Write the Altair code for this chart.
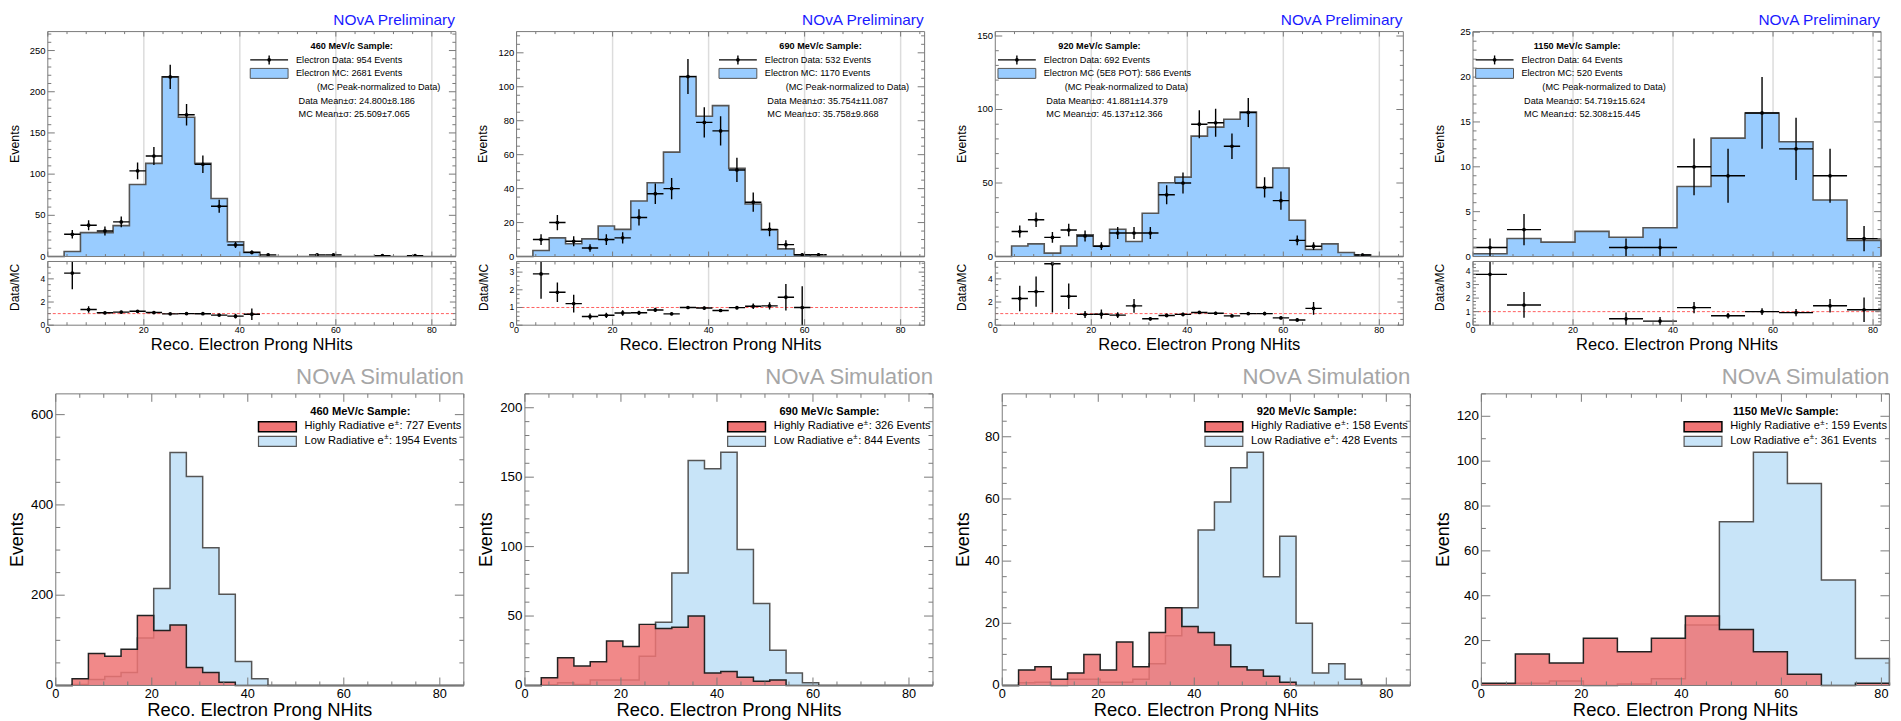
import math
import altair as alt
import pandas as pd

FONT = "Liberation Sans"
FRAME = "#7a7a7a"
MC_FILL = "#99ccff"
MC_LINE = "#555555"
LOW_FILL = "#c8e4f8"
HIGH_FILL = "#ef7474"
GRID = "#dcdcdc"

# ---------------- binning ----------------
BW_FINE = 3.4   # 25 bins over 0-85
BW_WIDE = 6.8   # 12 bins over 0-81.6
X_LABELS = [0, 20, 40, 60, 80]
X_GRID = [20, 40, 60, 80]
X_TITLE = "Reco. Electron Prong NHits"

# ---------------- top row: beam data vs MC ----------------
MC_460 = [0, 6, 29, 29, 37.5, 87.5, 113, 218, 169, 113, 70.5, 18, 5] + [0] * 12
DATA_460 = [0, 27, 38, 31, 42, 104, 122, 218, 172, 112, 61, 14, 5, 2, 0,
            0, 2, 2, 0, 0, 1, 0, 1, 0, 0]
RATIO_460 = [None, 4.5, 1.35, 1.07, 1.13, 1.2, 1.09, 0.98, 1.0, 0.99, 0.87, 0.78, 0.95] + [None] * 12
RERR_460 = [None, 1.4, 0.28, 0.12, 0.12, 0.09, 0.08, 0.06, 0.07, 0.08, 0.1, 0.2, 0.5] + [None] * 12

MC_690 = [0, 3.5, 11, 7.5, 10.4, 18, 16, 32.7, 43.5, 61.5, 106, 82.6, 88.9, 51.9,
          30.9, 15.7, 4.5, 1.0] + [0] * 7
DATA_690 = [0, 10, 20, 9, 5, 10, 11, 23, 37, 40, 106, 79, 74, 51, 32, 16, 7, 1, 1] + [0] * 6
RATIO_690 = [None, 2.9, 1.86, 1.22, 0.49, 0.56, 0.69, 0.7, 0.86, 0.64, 1.0, 0.97, 0.83,
             0.99, 1.07, 1.09, 1.58, 1.0] + [None] * 7
RERR_690 = [None, 1.4, 0.55, 0.5, 0.17, 0.15, 0.15, 0.12, 0.12, 0.08, 0.07, 0.09, 0.08,
            0.1, 0.15, 0.2, 0.75, 1.2] + [None] * 7

MC_920 = [0, 7.2, 8.6, 2.3, 7.2, 14.7, 7.2, 18.6, 10.2, 29.4, 50.2, 54, 81.9, 88, 93.4,
          98.2, 46.8, 60.2, 24.7, 4.8, 8.6, 2.7, 1.1, 0, 0]
DATA_920 = [0, 17, 25, 13, 18, 14, 7, 16, 16, 16, 42, 50, 90, 91, 75, 98, 47, 38, 11, 7,
            0, 0, 1, 0, 0]
RATIO_920 = [None, 2.3, 2.9, 5.3, 2.5, 0.93, 0.95, 0.87, 1.67, 0.55, 0.84, 0.93, 1.1, 1.03,
             0.8, 1.0, 1.0, 0.63, 0.45, 1.45] + [None] * 5
RERR_920 = [None, 1.1, 1.3, 4.2, 1.1, 0.3, 0.4, 0.25, 0.6, 0.15, 0.15, 0.15, 0.12, 0.12,
            0.1, 0.1, 0.15, 0.12, 0.15, 0.55] + [None] * 5

MC_1150 = [0.3, 2.0, 1.6, 2.8, 2.15, 3.2, 7.8, 13.2, 16.0, 12.8, 6.3, 1.8]
DATA_1150 = [1, 3, 0, 0, 1, 1, 10, 9, 16, 12, 9, 2]
RATIO_1150 = [3.75, 1.49, None, None, 0.47, 0.3, 1.3, 0.7, 1.0, 0.93, 1.43, 1.14]
RERR_1150 = [3.75, 0.95, None, None, 0.47, 0.3, 0.42, 0.2, 0.25, 0.27, 0.5, 0.9]

TOP_TEXT = [
    ["460 MeV/c Sample:", "Electron Data: 954 Events", "Electron MC: 2681 Events",
     "Data Mean\u00b1\u03c3: 24.800\u00b18.186", "MC Mean\u00b1\u03c3: 25.509\u00b17.065"],
    ["690 MeV/c Sample:", "Electron Data: 532 Events", "Electron MC: 1170 Events",
     "Data Mean\u00b1\u03c3: 35.754\u00b111.087", "MC Mean\u00b1\u03c3: 35.758\u00b19.868"],
    ["920 MeV/c Sample:", "Electron Data: 692 Events", "Electron MC (5E8 POT): 586 Events",
     "Data Mean\u00b1\u03c3: 41.881\u00b114.379", "MC Mean\u00b1\u03c3: 45.137\u00b112.366"],
    ["1150 MeV/c Sample:", "Electron Data: 64 Events", "Electron MC: 520 Events",
     "Data Mean\u00b1\u03c3: 54.719\u00b115.624", "MC Mean\u00b1\u03c3: 52.308\u00b115.445"],
]
PEAK_NOTE = "(MC Peak-normalized to Data)"

# ---------------- bottom row: simulation split ----------------
HIGH_460 = [0, 14.7, 71, 65, 80, 155, 122, 134, 40, 29, 7] + [0] * 14
LOW_460 = [0, 2, 13, 20, 29, 105, 215, 516, 463, 305, 202, 53, 15] + [0] * 12
HIGH_690 = [0, 5.5, 20, 14, 17, 32, 28, 44, 41, 42, 50, 9, 10, 6, 3, 4] + [0] * 9
LOW_690 = [0, 0.5, 2, 0.7, 4, 4, 4, 21, 45.5, 81, 162, 156, 168, 98, 59, 25.4, 8.9, 2] + [0] * 7
HIGH_920 = [0, 5, 6, 2, 4, 10, 5, 14, 6, 17, 25, 19, 17, 13, 6, 5, 3, 1] + [0] * 7
LOW_920 = [0, 0.9, 1, 0, 2, 2, 1, 1, 2, 7, 16, 25, 50, 59, 70, 75, 35, 48, 20, 4, 7, 2] + [0] * 3
HIGH_1150 = [1, 14, 10, 21, 15, 21, 31, 25, 15, 5, 0, 1]
LOW_1150 = [0.4, 1, 2, 0, 0.7, 3, 27, 73, 104, 90, 47, 12]

BOTTOM_SAMPLE = ["460 MeV/c Sample:", "690 MeV/c Sample:", "920 MeV/c Sample:", "1150 MeV/c Sample:"]
HIGH_COUNTS = [": 727 Events", ": 326 Events", ": 158 Events", ": 159 Events"]
LOW_COUNTS = [": 1954 Events", ": 844 Events", ": 428 Events", ": 361 Events"]
HIGH_LABEL = "Highly Radiative e"
LOW_LABEL = "Low Radiative e"
SUP = "\u00b1"

# ---------------- layout (pixels) ----------------
W = 410                       # plot width of every panel
H_MAIN, H_RATIO, H_SIM = 226, 64, 293
BOT_SHIFT = [8, 8.4, 7, 8.4]  # bottom panels sit a little right of the top ones
LEAD = 39.3
GAPS = [53.0, 61.6, 63.0]
TOP_PAD = 21.3
LEG_SIZE = 11.2
SUP_SIZE = 7.8
# advance widths (em) of the label stems in Liberation Sans (Arial metrics)
STEM_EM = {HIGH_LABEL: 8.058, LOW_LABEL: 7.114}
PM_EM = 0.584
DUMMY = pd.DataFrame({"k": [0]})


def vals(top, step):
    n = int(math.floor(top / step + 1e-6))
    return [round(i * step, 6) for i in range(n + 1)]


def split(top, major, minor):
    maj = vals(top, major)
    mnr = [v for v in vals(top, minor) if abs(v / major - round(v / major)) > 1e-6]
    return maj, mnr


def text(t, x, y, size, bold=False, align="left", baseline="middle", color="black", angle=0):
    kw = dict(text=t, font=FONT, fontSize=size, fontWeight="bold" if bold else "normal",
              align=align, baseline=baseline, color=color)
    if angle:
        kw["angle"] = angle
    return alt.Chart(DUMMY).mark_text(**kw).encode(x=alt.value(x), y=alt.value(y))


def sup_text(stem, rest, x, y):
    w1 = STEM_EM[stem] * LEG_SIZE
    w2 = PM_EM * SUP_SIZE
    return [text(stem, x, y, LEG_SIZE),
            text(SUP, x + w1 + 0.3, y - 3.6, SUP_SIZE),
            text(rest, x + w1 + w2 + 0.6, y, LEG_SIZE)]


def x_labels(xs, y, size):
    df = pd.DataFrame({"t": X_LABELS, "s": [str(v) for v in X_LABELS]})
    return alt.Chart(df).mark_text(font=FONT, fontSize=size, align="center", baseline="middle",
                                   color="black").encode(
        x=alt.X("t:Q", scale=xs, axis=None), y=alt.value(y), text="s:N")


def y_labels(ys, x, size, values):
    df = pd.DataFrame({"t": values, "s": [str(v) for v in values]})
    return alt.Chart(df).mark_text(font=FONT, fontSize=size, align="right", baseline="middle",
                                   color="black").encode(
        y=alt.Y("t:Q", scale=ys, axis=None), x=alt.value(x), text="s:N")


def grid(xs, h):
    return alt.Chart(pd.DataFrame({"t": X_GRID})).mark_rule(color=GRID, strokeWidth=1.5).encode(
        x=alt.X("t:Q", scale=xs, axis=None), y=alt.value(0), y2=alt.value(h))


def tick_layers(ox, h, xs, ys, xmax, xmaj, xmin, ymax, ymaj, ymin, xlen, ylen):
    layers = []
    xM, xm = split(xmax, xmaj, xmin)
    yM, ym = split(ymax, ymaj, ymin)
    for tv, L in ((xM, xlen[0]), (xm, xlen[1])):
        base = alt.Chart(pd.DataFrame({"t": tv})).mark_rule(color=FRAME, strokeWidth=1)
        xe = alt.X("t:Q", scale=xs, axis=None)
        layers.append(base.encode(x=xe, y=alt.value(h), y2=alt.value(h - L)))
        layers.append(base.encode(x=xe, y=alt.value(0), y2=alt.value(L)))
    for tv, L in ((yM, ylen[0]), (ym, ylen[1])):
        base = alt.Chart(pd.DataFrame({"t": tv})).mark_rule(color=FRAME, strokeWidth=1)
        ye = alt.Y("t:Q", scale=ys, axis=None)
        layers.append(base.encode(y=ye, x=alt.value(ox), x2=alt.value(ox + L)))
        layers.append(base.encode(y=ye, x=alt.value(ox + W), x2=alt.value(ox + W - L)))
    return layers


def frame(ox, h):
    return alt.Chart(DUMMY).mark_rect(fill="white", fillOpacity=0, stroke=FRAME, strokeWidth=1).encode(
        x=alt.value(ox), x2=alt.value(ox + W), y=alt.value(0), y2=alt.value(h))


def step_frame(values, bw):
    n = len(values)
    return pd.DataFrame({"x": [i * bw for i in range(n)] + [n * bw],
                         "v": list(values) + [0]})


def top_legend(lx, t):
    d = alt.Chart(DUMMY)
    return [
        text(t[0], lx + 102, 14.7, 9.2, bold=True, align="center"),
        d.mark_rule(color="black", strokeWidth=1.4).encode(
            x=alt.value(lx), x2=alt.value(lx + 38), y=alt.value(28.4)),
        d.mark_rule(color="black", strokeWidth=1.4).encode(
            x=alt.value(lx + 19), y=alt.value(24), y2=alt.value(33)),
        d.mark_circle(color="black", opacity=1, size=14).encode(
            x=alt.value(lx + 19), y=alt.value(28.4)),
        d.mark_rect(fill=MC_FILL, stroke=MC_LINE, strokeWidth=1).encode(
            x=alt.value(lx), x2=alt.value(lx + 38), y=alt.value(37), y2=alt.value(47)),
        text(t[1], lx + 46, 28.4, 9.2),
        text(t[2], lx + 46, 42, 9.2),
        text(PEAK_NOTE, lx + 67, 55.4, 9.2),
        text(t[3], lx + 48.6, 69.4, 9.2),
        text(t[4], lx + 48.6, 83, 9.2),
    ]


def top_panels(mc, data, ratio, rerr, bw, xmax, ymax, yvals, ymaj, ymin,
               rmax, rvals, rmaj, rmin, lx, t, cw):
    xs = alt.Scale(domain=[0, xmax], range=[0, W], nice=False, zero=False)
    ys = alt.Scale(domain=[0, ymax], nice=False, zero=False)
    step = step_frame(mc, bw)
    pts = pd.DataFrame([
        {"x0": i * bw, "x1": (i + 1) * bw, "c": (i + 0.5) * bw, "n": v,
         "lo": v - math.sqrt(v), "hi": v + math.sqrt(v)}
        for i, v in enumerate(data) if v > 0])

    area = alt.Chart(step).mark_area(interpolate="step-after", color=MC_FILL, opacity=1).encode(
        x=alt.X("x:Q", scale=xs, axis=None), y=alt.Y("v:Q", scale=ys, stack=None, axis=None))
    line = alt.Chart(step).mark_line(interpolate="step-after", color=MC_LINE, strokeWidth=1.6).encode(
        x=alt.X("x:Q", scale=xs, axis=None), y=alt.Y("v:Q", scale=ys, axis=None))
    hbar = alt.Chart(pts).mark_rule(color="black", strokeWidth=1.4, clip=True).encode(
        x=alt.X("x0:Q", scale=xs, axis=None), x2="x1:Q", y=alt.Y("n:Q", scale=ys, axis=None))
    vbar = alt.Chart(pts).mark_rule(color="black", strokeWidth=1.4, clip=True).encode(
        x=alt.X("c:Q", scale=xs, axis=None), y=alt.Y("lo:Q", scale=ys, axis=None), y2="hi:Q")
    dots = alt.Chart(pts).mark_circle(color="black", opacity=1, size=14, clip=True).encode(
        x=alt.X("c:Q", scale=xs, axis=None), y=alt.Y("n:Q", scale=ys, axis=None))
    ticks = tick_layers(0, H_MAIN, xs, ys, xmax, 20, 4, ymax, ymaj, ymin, (5, 2.5), (7, 3.5))
    guides = [
        y_labels(ys, -2.3, 9.5, yvals),
        text("Events", -33.25, H_MAIN / 2, 12.5, align="center", angle=270),
        text("NOvA Preliminary", W - 1, -6.6, 15.5, align="right", baseline="alphabetic",
             color="#1a1aff"),
    ]
    main = alt.layer(grid(xs, H_MAIN), area, line, hbar, vbar, dots, *ticks, frame(0, H_MAIN),
                     *top_legend(lx, t), *guides).properties(width=cw, height=H_MAIN)

    # ratio pad
    rxs = alt.Scale(domain=[0, xmax], range=[0, W], nice=False, zero=False)
    rys = alt.Scale(domain=[0, rmax], nice=False, zero=False)
    rp = pd.DataFrame([
        {"x0": i * bw, "x1": (i + 1) * bw, "c": (i + 0.5) * bw, "r": r,
         "rlo": r - e, "rhi": r + e}
        for i, (r, e) in enumerate(zip(ratio, rerr)) if r is not None])
    one = alt.Chart(DUMMY).mark_rule(color="#ff4d4d", strokeWidth=0.9, strokeDash=[3, 2]).encode(
        y=alt.Y(datum=1, scale=rys, axis=None), x=alt.value(0), x2=alt.value(W))
    rh = alt.Chart(rp).mark_rule(color="black", strokeWidth=1.4, clip=True).encode(
        x=alt.X("x0:Q", scale=rxs, axis=None), x2="x1:Q", y=alt.Y("r:Q", scale=rys, axis=None))
    rv = alt.Chart(rp).mark_rule(color="black", strokeWidth=1.4, clip=True).encode(
        x=alt.X("c:Q", scale=rxs, axis=None), y=alt.Y("rlo:Q", scale=rys, axis=None), y2="rhi:Q")
    rd = alt.Chart(rp).mark_circle(color="black", opacity=1, size=14, clip=True).encode(
        x=alt.X("c:Q", scale=rxs, axis=None), y=alt.Y("r:Q", scale=rys, axis=None))
    rticks = tick_layers(0, H_RATIO, rxs, rys, xmax, 20, 4, rmax, rmaj, rmin, (6, 3), (6, 3))
    rguides = [
        x_labels(rxs, H_RATIO + 4.8, 9),
        y_labels(rys, -2.5, 8.5, rvals),
        text(X_TITLE, W / 2, H_RATIO + 24.5, 16.6, align="center", baseline="alphabetic"),
        text("Data/MC", -33, 26, 12, align="center", angle=270),
    ]
    ratio_chart = alt.layer(grid(rxs, H_RATIO), one, rh, rv, rd, *rticks, frame(0, H_RATIO),
                            *rguides).properties(width=cw, height=H_RATIO)
    return main, ratio_chart


def bottom_panel(high, low, bw, xmax, ymax, yvals, ymaj, ymin, k, ox):
    xs = alt.Scale(domain=[0, xmax], range=[ox, ox + W], nice=False, zero=False)
    ys = alt.Scale(domain=[0, ymax], nice=False, zero=False)
    lo = step_frame(low, bw)
    hi = step_frame(high, bw)
    low_area = alt.Chart(lo).mark_area(interpolate="step-after", color=LOW_FILL, opacity=1).encode(
        x=alt.X("x:Q", scale=xs, axis=None), y=alt.Y("v:Q", scale=ys, stack=None, axis=None))
    low_line = alt.Chart(lo).mark_line(interpolate="step-after", color=MC_LINE, strokeWidth=1.5).encode(
        x=alt.X("x:Q", scale=xs, axis=None), y=alt.Y("v:Q", scale=ys, axis=None))
    high_area = alt.Chart(hi).mark_area(interpolate="step-after", color=HIGH_FILL, opacity=0.85).encode(
        x=alt.X("x:Q", scale=xs, axis=None), y=alt.Y("v:Q", scale=ys, stack=None, axis=None))
    high_line = alt.Chart(hi).mark_line(interpolate="step-after", color="#222222", strokeWidth=1.5).encode(
        x=alt.X("x:Q", scale=xs, axis=None), y=alt.Y("v:Q", scale=ys, axis=None))
    ticks = tick_layers(ox, H_SIM, xs, ys, xmax, 20, 5, ymax, ymaj, ymin, (8, 4), (9, 4.5))
    d = alt.Chart(DUMMY)
    legend = [
        text(BOTTOM_SAMPLE[k], ox + 306, 18.3, LEG_SIZE, bold=True, align="center"),
        d.mark_rect(fill=HIGH_FILL, stroke="black", strokeWidth=1.5).encode(
            x=alt.value(ox + 203.7), x2=alt.value(ox + 241.7), y=alt.value(28), y2=alt.value(38)),
        d.mark_rect(fill=LOW_FILL, stroke=MC_LINE, strokeWidth=1.2).encode(
            x=alt.value(ox + 203.7), x2=alt.value(ox + 241.7), y=alt.value(42.7), y2=alt.value(52.7)),
        *sup_text(HIGH_LABEL, HIGH_COUNTS[k], ox + 250, 32.7),
        *sup_text(LOW_LABEL, LOW_COUNTS[k], ox + 250, 47.3),
    ]
    guides = [
        x_labels(xs, H_SIM + 8.3, 12.8),
        y_labels(ys, ox - 2.5, 13.4, yvals),
        text(X_TITLE, ox + W / 2, H_SIM + 31, 18.5, align="center", baseline="alphabetic"),
        text("Events", ox - 38, H_SIM / 2, 18, align="center", angle=270),
        text("NOvA Simulation", ox + W, -10, 22.3, align="right", baseline="alphabetic",
             color="#a6a6a6"),
    ]
    return alt.layer(low_area, low_line, high_area, high_line, *ticks, frame(ox, H_SIM),
                     *legend, *guides).properties(width=W + ox, height=H_SIM)


CW = [W + s for s in BOT_SHIFT]

M1, R1 = top_panels(MC_460, DATA_460, RATIO_460, RERR_460, BW_FINE, 85, 273, [0, 50, 100, 150, 200, 250],
                    50, 10, 5.5, [0, 2, 4], 2, 0.5, 203.4, TOP_TEXT[0], CW[0])
M2, R2 = top_panels(MC_690, DATA_690, RATIO_690, RERR_690, BW_FINE, 85, 132.5, [0, 20, 40, 60, 80, 100, 120],
                    20, 5, 3.6, [0, 1, 2, 3], 1, 0.25, 203.4, TOP_TEXT[1], CW[1])
M3, R3 = top_panels(MC_920, DATA_920, RATIO_920, RERR_920, BW_FINE, 85, 153, [0, 50, 100, 150],
                    50, 10, 5.5, [0, 2, 4], 2, 0.5, 2.7, TOP_TEXT[2], CW[2])
M4, R4 = top_panels(MC_1150, DATA_1150, RATIO_1150, RERR_1150, BW_WIDE, 81.6, 25.07, [0, 5, 10, 15, 20, 25],
                    5, 1, 4.7, [0, 1, 2, 3, 4], 1, 0.25, 2.7, TOP_TEXT[3], CW[3])

B1 = bottom_panel(HIGH_460, LOW_460, BW_FINE, 85, 646, [0, 200, 400, 600], 200, 50, 0, BOT_SHIFT[0])
B2 = bottom_panel(HIGH_690, LOW_690, BW_FINE, 85, 210, [0, 50, 100, 150, 200], 50, 10, 1, BOT_SHIFT[1])
B3 = bottom_panel(HIGH_920, LOW_920, BW_FINE, 85, 93.8, [0, 20, 40, 60, 80], 20, 5, 2, BOT_SHIFT[2])
B4 = bottom_panel(HIGH_1150, LOW_1150, BW_WIDE, 81.6, 130, [0, 20, 40, 60, 80, 100, 120], 20, 10, 3,
                  BOT_SHIFT[3])


def spacer(w, h):
    return alt.Chart(DUMMY).mark_point(opacity=0, size=1).encode(
        x=alt.value(1), y=alt.value(1)).properties(width=w, height=h)


def panel_row(panels, h):
    cells = [spacer(LEAD, h)]
    for i, p in enumerate(panels):
        cells.append(p)
        if i < len(GAPS):
            cells.append(spacer(GAPS[i], h))
    return cells


def blank_row(h):
    return [spacer(1, h) for _ in range(8)]


cells = (blank_row(TOP_PAD)
         + panel_row([M1, M2, M3, M4], H_MAIN)
         + blank_row(5)
         + panel_row([R1, R2, R3, R4], H_RATIO)
         + blank_row(69)
         + panel_row([B1, B2, B3, B4], H_SIM))

chart = alt.concat(*cells, columns=8, spacing=0, bounds="flush", padding=0).resolve_scale(
    x="independent", y="independent").configure_view(strokeOpacity=0)

chart.save("out.html", embed_options={"renderer": "svg", "actions": False})
